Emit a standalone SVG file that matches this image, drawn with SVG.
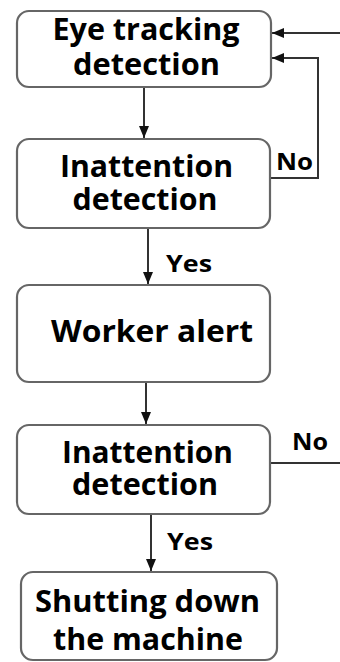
<svg xmlns="http://www.w3.org/2000/svg" width="340" height="662" viewBox="0 0 340 662">
  <defs>
    <marker id="arrow" markerWidth="12" markerHeight="10" refX="12" refY="5" orient="auto" markerUnits="userSpaceOnUse">
      <path d="M0,0 L12,5 L0,10 Z" fill="#111"/>
    </marker>
    <style>
      .box { fill: #fff; stroke: #666; stroke-width: 2.2; }
      .lbl { font-family: "Open Sans", "Liberation Sans", sans-serif; font-weight: bold; font-size: 30px; fill: #000; text-anchor: middle; }
      .tag { font-family: "Open Sans", "Liberation Sans", sans-serif; font-weight: bold; font-size: 24px; fill: #000; }
      .edge { fill: none; stroke: #333; stroke-width: 2; }
    </style>
  </defs>
  <rect width="340" height="662" fill="#fff"/>

  <g id="connectors">
    <line class="edge" x1="144" y1="87" x2="144" y2="138" marker-end="url(#arrow)"/>
    <line class="edge" x1="148" y1="228" x2="148" y2="284" marker-end="url(#arrow)"/>
    <line class="edge" x1="146" y1="382" x2="146" y2="424" marker-end="url(#arrow)"/>
    <line class="edge" x1="151" y1="514" x2="151" y2="571" marker-end="url(#arrow)"/>
    <polyline class="edge" points="270,178 318,178 318,58 272,58" marker-end="url(#arrow)"/>
    <line class="edge" x1="340" y1="33" x2="272" y2="33" marker-end="url(#arrow)"/>
    <line class="edge" x1="270" y1="463" x2="340" y2="463"/>
    <text class="tag" x="276" y="170" font-size="20" textLength="37" lengthAdjust="spacingAndGlyphs">No</text>
    <text class="tag" x="166" y="272" textLength="46" lengthAdjust="spacingAndGlyphs">Yes</text>
    <text class="tag" x="292" y="450" textLength="36" lengthAdjust="spacingAndGlyphs">No</text>
    <text class="tag" x="167" y="550" textLength="46" lengthAdjust="spacingAndGlyphs">Yes</text>
  </g>

  <g id="eye-tracking">
    <rect class="box" x="17" y="11" width="254" height="76" rx="12"/>
    <text class="lbl" x="146" y="40" textLength="187" lengthAdjust="spacingAndGlyphs">Eye tracking</text>
    <text class="lbl" x="146.5" y="75" textLength="147" lengthAdjust="spacingAndGlyphs">detection</text>
  </g>

  <g id="inattention-1">
    <rect class="box" x="17" y="139" width="253" height="89" rx="12"/>
    <text class="lbl" x="146.5" y="177" textLength="173" lengthAdjust="spacingAndGlyphs">Inattention</text>
    <text class="lbl" x="145" y="210" textLength="145" lengthAdjust="spacingAndGlyphs">detection</text>
  </g>

  <g id="worker-alert">
    <rect class="box" x="17" y="285" width="253" height="97" rx="12"/>
    <text class="lbl" x="152" y="342" textLength="202" lengthAdjust="spacingAndGlyphs">Worker alert</text>
  </g>

  <g id="inattention-2">
    <rect class="box" x="17" y="425" width="253" height="89" rx="12"/>
    <text class="lbl" x="147.5" y="463" textLength="171" lengthAdjust="spacingAndGlyphs">Inattention</text>
    <text class="lbl" x="145" y="495" textLength="146" lengthAdjust="spacingAndGlyphs">detection</text>
  </g>

  <g id="shutdown">
    <rect class="box" x="21" y="572" width="256" height="88" rx="12"/>
    <text class="lbl" x="147.5" y="612" textLength="225" lengthAdjust="spacingAndGlyphs">Shutting down</text>
    <text class="lbl" x="148" y="650" textLength="190" lengthAdjust="spacingAndGlyphs">the machine</text>
  </g>
</svg>
